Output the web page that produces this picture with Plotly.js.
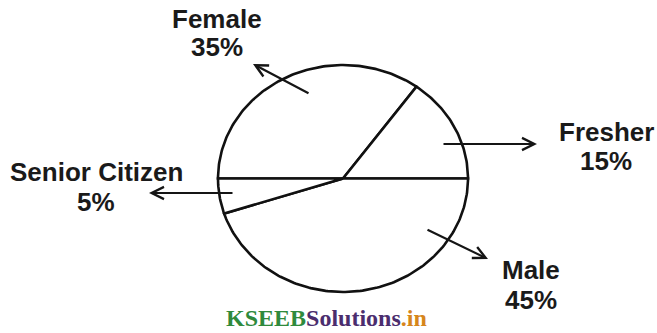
<!DOCTYPE html>
<html>
<head>
<meta charset="utf-8">
<script src="https://cdn.plot.ly/plotly-3.0.1.min.js"></script>
<style>
  html, body { margin: 0; padding: 0; background: #ffffff; }
  #chart { width: 657px; height: 333px; }
</style>
</head>
<body>
<div id="chart"></div>
<script>
// ---- data ----
const categories = ['Female', 'Fresher', 'Male', 'Senior Citizen'];
const values = [35, 15, 45, 5];
const percentLabels = ['35%', '15%', '45%', '5%'];

// ---- layout / style settings (pixels in the 657x333 frame) ----
const W = 657, H = 333;
const CX = 343, CY = 178.5;     // pie centre
const RX = 125, RY = 113.5;     // pie radii (drawing is slightly squashed)
const START_DEG = 180;          // first slice begins at 9 o'clock, going clockwise

// label line centres (name line, percent line), px
const labelPos = [
  { x: 217, y1: 19, y2: 47 },
  { x: 606, y1: 132, y2: 161 },
  { x: 96,  y1: 172, y2: 202 },
  { x: 531, y1: 270, y2: 300 }
];
// arrows: tail (inside pie) -> head (toward label), px
const arrowPos = [
  { tx: 310, ty: 94,  hx: 253, hy: 64 },
  { tx: 442, ty: 144, hx: 537, hy: 144 },
  { tx: 234, ty: 193, hx: 149, hy: 193 },
  { tx: 426, ty: 229, hx: 488, hy: 259 }
];
// map label slot to category index
const labelOrder = [0, 1, 3, 2];
const arrowOrder = [0, 1, 3, 2];

const px2x = px => (px - CX) / RX;
const py2y = py => (CY - py) / RY;

// ---- build wedges from values ----
const total = values.reduce((a, b) => a + b, 0);
const traces = [];
let cum = 0;
values.forEach((v, i) => {
  const a0 = START_DEG - cum / total * 360;
  const a1 = START_DEG - (cum + v) / total * 360;
  cum += v;
  const xs = [0], ys = [0];
  const steps = Math.max(4, Math.ceil(Math.abs(a0 - a1)));
  for (let k = 0; k <= steps; k++) {
    const a = (a0 + (a1 - a0) * k / steps) * Math.PI / 180;
    xs.push(Math.cos(a));
    ys.push(Math.sin(a));
  }
  xs.push(0); ys.push(0);
  traces.push({
    type: 'scatter', mode: 'lines', x: xs, y: ys,
    fill: 'toself', fillcolor: '#ffffff',
    line: { color: '#111111', width: 2.6 },
    name: categories[i],
    text: categories[i] + ' ' + v + '%',
    hoverinfo: 'text', hoveron: 'fills'
  });
});

// ---- annotations ----
const annotations = [];
const textFont = { family: 'Liberation Sans, Arial, sans-serif', size: 26, color: '#1a1a1a', weight: 'bold' };
labelOrder.forEach((ci, slot) => {
  const p = labelPos[slot];
  annotations.push({ x: px2x(p.x), y: py2y(p.y1), xref: 'x', yref: 'y', text: categories[ci],
    showarrow: false, xanchor: 'center', yanchor: 'middle', font: textFont });
  annotations.push({ x: px2x(p.x), y: py2y(p.y2), xref: 'x', yref: 'y', text: percentLabels[ci],
    showarrow: false, xanchor: 'center', yanchor: 'middle', font: textFont });
});
arrowOrder.forEach((ci, slot) => {
  const a = arrowPos[slot];
  annotations.push({
    x: px2x(a.hx), y: py2y(a.hy), ax: px2x(a.tx), ay: py2y(a.ty),
    xref: 'x', yref: 'y', axref: 'x', ayref: 'y', text: '',
    showarrow: true, arrowhead: 5, arrowsize: 1.1, arrowwidth: 2.2,
    arrowcolor: '#151515', standoff: 0, startstandoff: 0
  });
});
// watermark
annotations.push({
  x: 0.497, y: 1 - 318 / H, xref: 'paper', yref: 'paper', showarrow: false,
  xanchor: 'center', yanchor: 'middle',
  text: '<b><span style="color:#2f8a3c">KSEEB</span><span style="color:#4b2d6e">Solutions</span><span style="color:#d6861c">.in</span></b>',
  font: { family: 'Liberation Serif, Times New Roman, serif', size: 24 }
});

const layout = {
  width: W, height: H,
  margin: { l: 0, r: 0, t: 0, b: 0, pad: 0 },
  paper_bgcolor: '#ffffff', plot_bgcolor: '#ffffff',
  showlegend: false,
  xaxis: { range: [px2x(0), px2x(W)], visible: false, fixedrange: true },
  yaxis: { range: [py2y(H), py2y(0)], visible: false, fixedrange: true },
  annotations: annotations
};

Plotly.newPlot('chart', traces, layout, { displayModeBar: false });
</script>
</body>
</html>
